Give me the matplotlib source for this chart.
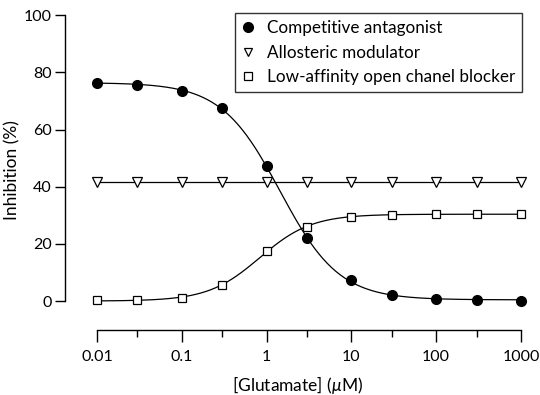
import matplotlib
matplotlib.use("Agg")
import matplotlib.pyplot as plt
import numpy as np
from matplotlib.lines import Line2D

plt.rcParams["font.family"] = ["Lato", "DejaVu Sans"]
plt.rcParams["mathtext.fontset"] = "custom"
plt.rcParams["mathtext.it"] = "Lato:italic"

# データ
glutamate = [0.01, 0.03, 0.1, 0.3, 1, 3, 10, 30, 100, 300, 1000]
competitive = [76.1, 75.6, 73.6, 67.4, 47.4, 21.9, 7.3, 2.3, 0.6, 0.3, 0.2]
allosteric = [41.7] * 11
channel_blocker = [0.3, 0.3, 1.0, 5.8, 17.6, 26.0, 29.3, 30.2, 30.4, 30.4, 30.5]
labels = ["Competitive antagonist", "Allosteric modulator",
          "Low-affinity open chanel blocker"]


def hill_fit(x, y):
    """4パラメータのHill式をグリッド探索でフィット (top/bottomは最小二乗)."""
    lx = np.log10(x)
    y = np.asarray(y)
    best = None
    for mid in np.linspace(-2, 3, 251):
        for n in np.linspace(-3, 3, 241):
            if abs(n) < 0.05:
                continue
            s = 1.0 / (1.0 + 10 ** (n * (lx - mid)))
            A = np.column_stack([s, np.ones_like(s)])
            coef, *_ = np.linalg.lstsq(A, y, rcond=None)
            err = np.sum((A @ coef - y) ** 2)
            if best is None or err < best[0]:
                best = (err, mid, n, coef)
    _, mid, n, coef = best

    def f(xx):
        return coef[0] / (1.0 + 10 ** (n * (np.log10(xx) - mid))) + coef[1]
    return f


xs = np.logspace(-2, 3, 400)
fig = plt.figure(figsize=(5.4, 3.95), dpi=100)
ax = fig.add_axes([65 / 540, 65 / 395, 465 / 540, 320 / 395])

ax.plot(xs, hill_fit(glutamate, competitive)(xs), color="black", lw=0.9, zorder=2)
ax.plot(xs, hill_fit(glutamate, channel_blocker)(xs), color="black", lw=0.9, zorder=2)
ax.plot(glutamate, allosteric, color="black", lw=0.9, zorder=2)

ax.plot(glutamate, competitive, "o", ms=7, mfc="black", mec="black", zorder=3)
ax.plot(glutamate, allosteric, "v", ms=6.5, mfc="white", mec="black", mew=0.9, zorder=3)
ax.plot(glutamate, channel_blocker, "s", ms=6.2, mfc="white", mec="black", mew=0.9, zorder=3)

ax.set_xscale("log")
ax.set_xlim(0.0042, 1277)
ax.set_ylim(-10.1, 101.8)
ax.spines["top"].set_visible(False)
ax.spines["right"].set_visible(False)
ax.spines["left"].set_bounds(0, 100)
ax.spines["bottom"].set_bounds(0.01, 1000)
for sp in ("left", "bottom"):
    ax.spines[sp].set_linewidth(1.0)

ax.set_yticks([0, 20, 40, 60, 80, 100])
ax.set_xticks([0.01, 0.1, 1, 10, 100, 1000])
ax.set_xticklabels(["0.01", "0.1", "1", "10", "100", "1000"])
ax.set_xticks([0.03, 0.3, 3, 30, 300], minor=True)
ax.set_xticklabels([], minor=True)
ax.tick_params(axis="y", length=7.5, width=1.0, labelsize=11.5, pad=2)
ax.tick_params(axis="x", which="major", length=8.5, width=1.0, labelsize=11.5, pad=6)
ax.tick_params(axis="x", which="minor", length=5, width=1.0)

ax.set_ylabel("Inhibition (%)", fontsize=12.5, labelpad=2.5)
ax.set_xlabel(r"[Glutamate] ($\mathit{\mu}$M)", fontsize=12.5, labelpad=7)

handles = [
    Line2D([], [], ls="none", marker="o", ms=7, mfc="black", mec="black"),
    Line2D([], [], ls="none", marker="v", ms=6, mfc="white", mec="black", mew=0.9),
    Line2D([], [], ls="none", marker="s", ms=6, mfc="white", mec="black", mew=0.9),
]
leg = ax.legend(handles, labels, loc="upper right", bbox_to_anchor=(0.983, 0.99),
                fontsize=12.3, frameon=True, fancybox=False, edgecolor="black",
                handlelength=0.8, handletextpad=0.7, borderpad=0.4,
                labelspacing=0.5, borderaxespad=0)
leg.get_frame().set_linewidth(1.0)

plt.savefig("out.png", dpi=100)
